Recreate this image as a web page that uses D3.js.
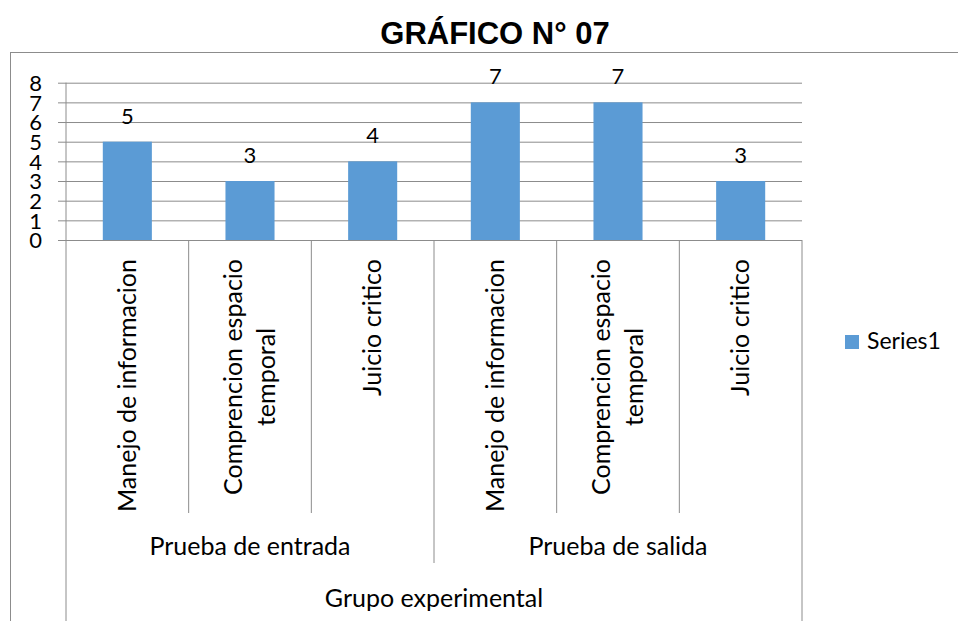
<!DOCTYPE html>
<html>
<head>
<meta charset="utf-8">
<script src="https://cdn.jsdelivr.net/npm/d3@7"></script>
<style>
  body { margin: 0; background: #fff; }
  svg { display: block; }
</style>
</head>
<body>
<svg id="chart" width="958" height="621"></svg>
<script>
// data
const categories = [
  ["Manejo de informacion"],
  ["Comprencion espacio", "temporal"],
  ["Juicio critico"],
  ["Manejo de informacion"],
  ["Comprencion espacio", "temporal"],
  ["Juicio critico"]
];
const groups = ["Prueba de entrada", "Prueba de salida"];
const groupSize = 3;
const outerGroup = "Grupo experimental";
const values = [5, 3, 4, 7, 7, 3];
const yTicks = [0, 1, 2, 3, 4, 5, 6, 7, 8];
const seriesName = "Series1";
const title = "GRÁFICO N° 07";

const W = 958, H = 621;
const barColor = "#5b9bd5";
const lineColor = "#8c8c8c";
const font = "Lato, 'Open Sans', sans-serif";

const plot = { left: 66, right: 802, top: 82.7, bottom: 240 };

const svg = d3.select("#chart");

// outer chart frame
svg.append("rect")
  .attr("x", 10.5).attr("y", 52.5)
  .attr("width", W).attr("height", H)
  .attr("fill", "none").attr("stroke", lineColor);

// title
svg.append("text")
  .attr("x", 495).attr("y", 44)
  .attr("text-anchor", "middle")
  .style("font-family", "'Liberation Sans', Arial, sans-serif")
  .style("font-weight", "bold")
  .style("font-size", "31px")
  .text(title);

const x = d3.scaleBand()
  .domain(d3.range(values.length))
  .range([plot.left, plot.right])
  .padding(0);

const y = d3.scaleLinear()
  .domain([0, d3.max(yTicks)])
  .range([plot.bottom, plot.top]);

// gridlines + tick labels
const yAxis = svg.append("g")
  .attr("transform", `translate(${plot.left},0)`)
  .call(d3.axisLeft(y)
    .tickValues(yTicks)
    .tickSize(-(plot.right - plot.left))
    .tickPadding(24)
    .tickFormat(d3.format("d")));
yAxis.select(".domain").remove();
yAxis.selectAll(".tick line")
  .attr("x1", -8)
  .attr("stroke", lineColor);
yAxis.selectAll(".tick text")
  .attr("dy", "0.36em")
  .style("font-family", font)
  .style("font-size", "22px")
  .attr("fill", "#000");

// bars
const barW = x.bandwidth() * 0.4;
svg.append("g").selectAll("rect")
  .data(values)
  .join("rect")
  .attr("x", (d, i) => x(i) + (x.bandwidth() - barW) / 2)
  .attr("y", d => y(d))
  .attr("width", barW)
  .attr("height", d => y(0) - y(d))
  .attr("fill", barColor);

// data labels
svg.append("g").selectAll("text")
  .data(values)
  .join("text")
  .attr("x", (d, i) => x(i) + x.bandwidth() / 2)
  .attr("y", d => y(d) - 18)
  .attr("text-anchor", "middle")
  .style("font-family", font)
  .style("font-size", "22px")
  .text(d => d);

// vertical axis line and category separators
const level1 = 513, level2 = 563;
const seps = svg.append("g").attr("stroke", lineColor);
seps.append("line")
  .attr("x1", plot.left).attr("x2", plot.left)
  .attr("y1", plot.top).attr("y2", H);
seps.append("line")
  .attr("x1", plot.right).attr("x2", plot.right)
  .attr("y1", plot.bottom).attr("y2", H);
d3.range(1, values.length).forEach(i => {
  const xx = x(i);
  seps.append("line")
    .attr("x1", xx).attr("x2", xx)
    .attr("y1", plot.bottom)
    .attr("y2", i % groupSize === 0 ? level2 : level1);
});

// rotated category labels
const catFont = 25, lineH = 33, labelTop = 259;
categories.forEach((lines, i) => {
  const cx = x(i) + x.bandwidth() / 2;
  const g = svg.append("g")
    .attr("transform", `translate(${cx},${labelTop}) rotate(-90)`);
  const n = lines.length;
  const texts = lines.map((t, k) => g.append("text")
    .attr("y", (k - (n - 1) / 2) * lineH)
    .attr("dy", "0.35em")
    .style("font-family", font)
    .style("font-size", catFont + "px")
    .text(t));
  const widths = texts.map(t => t.node().getComputedTextLength());
  const maxW = d3.max(widths);
  texts.forEach((t, k) => t.attr("x", -maxW / 2 - widths[k] / 2));
});

// group labels
groups.forEach((gName, j) => {
  const x0 = x(j * groupSize), x1 = x(j * groupSize + groupSize - 1) + x.bandwidth();
  svg.append("text")
    .attr("x", (x0 + x1) / 2).attr("y", 555)
    .attr("text-anchor", "middle")
    .style("font-family", font)
    .style("font-size", catFont + "px")
    .text(gName);
});

svg.append("text")
  .attr("x", (plot.left + plot.right) / 2).attr("y", 607)
  .attr("text-anchor", "middle")
  .style("font-family", font)
  .style("font-size", catFont + "px")
  .text(outerGroup);

// legend
const legend = svg.append("g").attr("transform", "translate(845,335)");
legend.append("rect")
  .attr("width", 14).attr("height", 14)
  .attr("fill", barColor);
legend.append("text")
  .attr("x", 22).attr("y", 14)
  .style("font-family", font)
  .style("font-size", "23px")
  .text(seriesName);
</script>
</body>
</html>
